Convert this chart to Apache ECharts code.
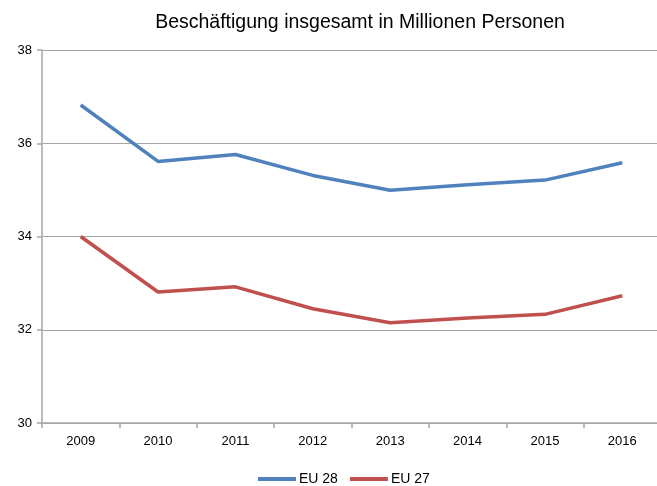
<!DOCTYPE html>
<html><head><meta charset="utf-8">
<script src="https://cdn.jsdelivr.net/npm/echarts@6/dist/echarts.min.js"></script>
<style>html,body{margin:0;padding:0;background:#fff}#c{width:657px;height:486px}</style>
</head><body><div id="c"></div>
<script>
const categories = ['2009','2010','2011','2012','2013','2014','2015','2016'];
const eu28 = [36.82, 35.61, 35.76, 35.31, 34.99, 35.11, 35.21, 35.58];
const eu27 = [34.0, 32.81, 32.92, 32.45, 32.15, 32.25, 32.33, 32.73];
const chart = echarts.init(document.getElementById('c'));
const fontFam = 'Liberation Sans, Arial, sans-serif';
chart.setOption({
  animation: false,
  title: { text: 'Beschäftigung insgesamt in Millionen Personen', left: 355, textAlign: 'center', top: 8,
    textStyle: { fontFamily: fontFam, fontSize: 19.5, fontWeight: 'normal', color: '#000' } },
  legend: { top: 467, left: 253, itemWidth: 38, itemHeight: 4, itemGap: 12, icon: 'rect',
    textStyle: { fontFamily: fontFam, fontSize: 14, color: '#000', padding: [0,0,0,-2] },
    data: ['EU 28', 'EU 27'] },
  grid: { left: 42, width: 619, top: 50, height: 373, outerBoundsMode: 'none', containLabel: false },
  xAxis: { type: 'category', data: categories, boundaryGap: true,
    axisLine: { lineStyle: { color: '#A6A6A6', width: 1.5 } },
    axisTick: { show: true, length: 5, lineStyle: { color: '#A6A6A6', width: 1.5 } },
    axisLabel: { fontFamily: fontFam, fontSize: 13, color: '#000', margin: 12 } },
  yAxis: { type: 'value', min: 30, max: 38, interval: 2,
    axisLine: { show: true, lineStyle: { color: '#A6A6A6', width: 1.5 } },
    axisTick: { show: true, length: 5, lineStyle: { color: '#A6A6A6', width: 1.5 } },
    splitLine: { lineStyle: { color: '#A6A6A6', width: 1.2 } },
    axisLabel: { fontFamily: fontFam, fontSize: 13, color: '#000', margin: 10 } },
  series: [
    { name: 'EU 28', type: 'line', data: eu28, symbol: 'none', color: '#4F81BD', lineStyle: { width: 3.5, color: '#4F81BD' } },
    { name: 'EU 27', type: 'line', data: eu27, symbol: 'none', color: '#C0504D', lineStyle: { width: 3.5, color: '#C0504D' } }
  ]
});
</script></body></html>
